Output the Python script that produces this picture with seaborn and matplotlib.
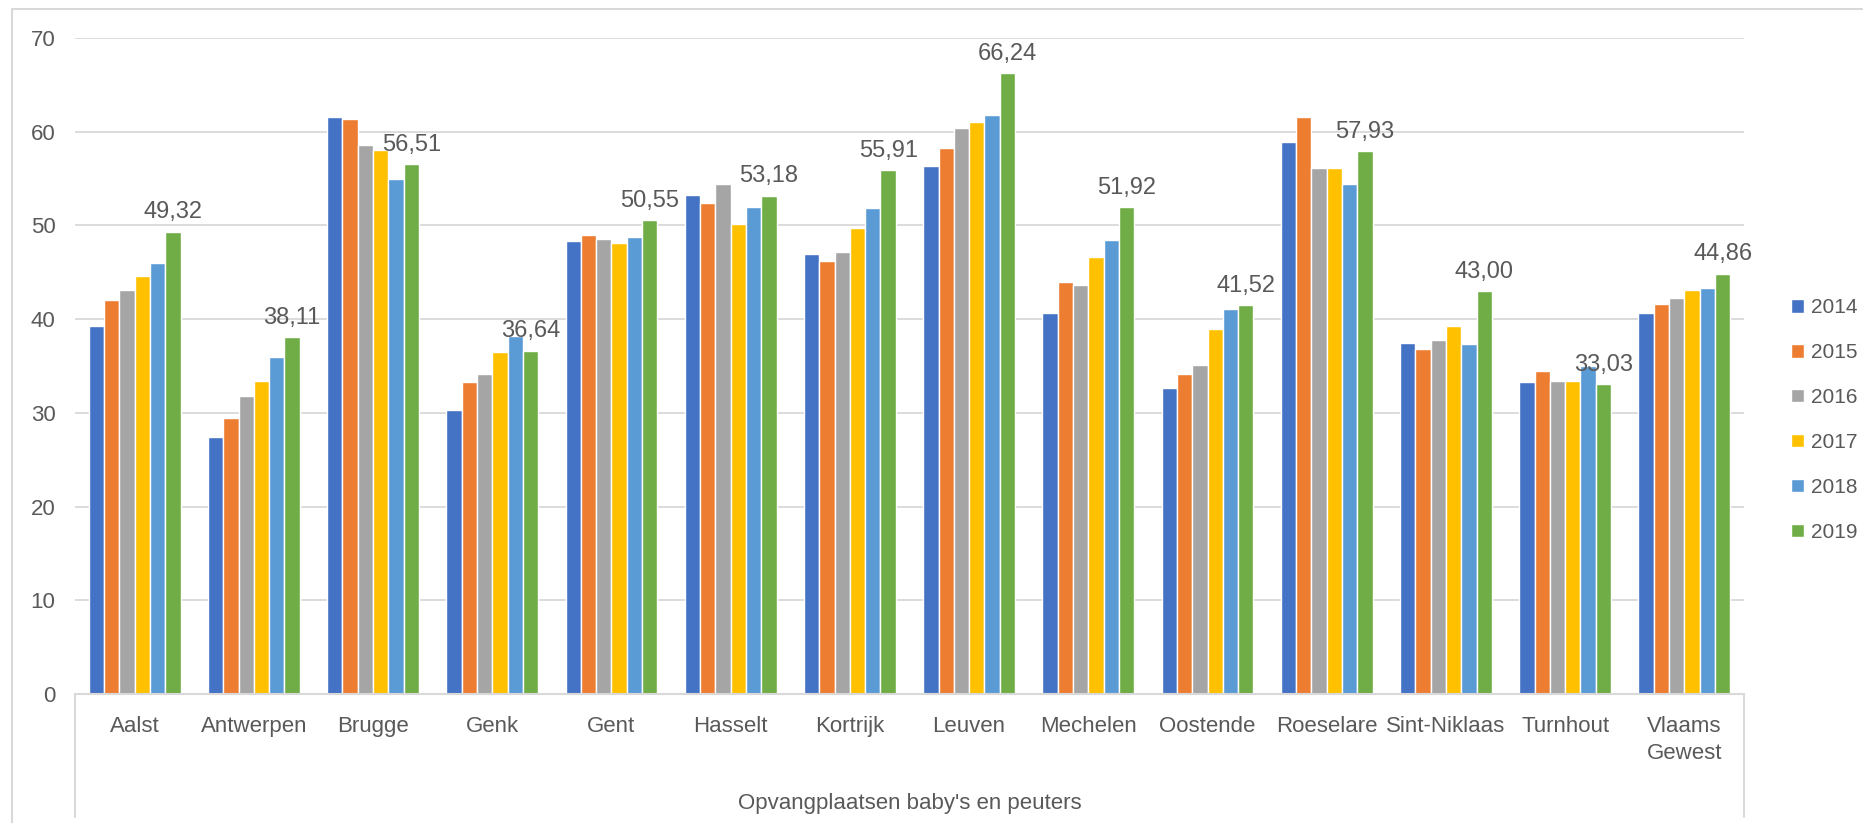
import pandas as pd
import matplotlib.pyplot as plt
import seaborn as sns
from matplotlib.lines import Line2D

# values
steden = ["Aalst", "Antwerpen", "Brugge", "Genk", "Gent", "Hasselt", "Kortrijk",
          "Leuven", "Mechelen", "Oostende", "Roeselare", "Sint-Niklaas", "Turnhout",
          "Vlaams\nGewest"]
jaren = ["2014", "2015", "2016", "2017", "2018", "2019"]

v2014 = [39.3, 27.4, 61.6, 30.3, 48.3, 53.2, 46.9, 56.3, 40.7, 32.7, 58.9, 37.5, 33.3, 40.7]
v2015 = [42.0, 29.5, 61.4, 33.3, 49.0, 52.4, 46.2, 58.3, 44.0, 34.1, 61.6, 36.8, 34.5, 41.6]
v2016 = [43.1, 31.8, 58.6, 34.1, 48.5, 54.4, 47.2, 60.4, 43.6, 35.1, 56.1, 37.8, 33.4, 42.3]
v2017 = [44.6, 33.4, 58.0, 36.5, 48.1, 50.1, 49.7, 61.0, 46.6, 38.9, 56.1, 39.3, 33.4, 43.1]
v2018 = [46.0, 36.0, 55.0, 38.2, 48.8, 52.0, 51.9, 61.8, 48.4, 41.1, 54.4, 37.4, 35.0, 43.3]
v2019 = [49.32, 38.11, 56.51, 36.64, 50.55, 53.18, 55.91, 66.24, 51.92, 41.52, 57.93, 43.00, 33.03, 44.86]

kleuren = ["#4472C4", "#ED7D31", "#A5A5A5", "#FFC000", "#5B9BD5", "#70AD47"]
as_titel = "Opvangplaatsen baby's en peuters"

reeksen = [v2014, v2015, v2016, v2017, v2018, v2019]
rows = []
for jaar, waarden in zip(jaren, reeksen):
    for stad, w in zip(steden, waarden):
        rows.append({"stad": stad, "jaar": jaar, "waarde": w})
df = pd.DataFrame(rows)

sns.set_style("white")
plt.rcParams['font.family'] = ['Liberation Sans', 'DejaVu Sans']
tekst = "#595959"
grijs = "#D9D9D9"

W, H = 1863, 823
fig = plt.figure(figsize=(W / 100, H / 100), dpi=100)
ax = fig.add_axes([75 / W, 1 - 694 / H, (1744 - 75) / W, (694 - 38) / H])

sns.barplot(data=df, x="stad", y="waarde", hue="jaar", order=steden, hue_order=jaren,
            palette=kleuren, width=0.77, edgecolor="white", linewidth=1.0,
            saturation=1, ax=ax, legend=True)

ax.set_ylim(0, 70)
ax.set_yticks(range(0, 71, 10))
ax.yaxis.grid(True, color=grijs, linewidth=1.3)
ax.set_axisbelow(True)
for s in ["left", "right", "top"]:
    ax.spines[s].set_visible(False)
ax.spines["bottom"].set_color(grijs)
ax.spines["bottom"].set_linewidth(1.5)
ax.tick_params(axis="y", length=0, pad=14, labelsize=16, labelcolor=tekst)
ax.tick_params(axis="x", length=0, pad=16, labelsize=16, labelcolor=tekst)
for lbl in ax.get_xticklabels():
    lbl.set_linespacing(1.35)
ax.set_xlabel("")
ax.set_ylabel("")

# labels only on the 2019 series
ax.bar_label(ax.containers[5], labels=[f"{v:.2f}".replace(".", ",") for v in v2019],
             padding=6, fontsize=17, color=tekst)

ax.legend(loc="center left", bbox_to_anchor=(1781 / W, 1 - 420 / H),
          bbox_transform=fig.transFigure, frameon=False, fontsize=15,
          labelcolor=tekst, handlelength=0.6, handleheight=0.6, handletextpad=0.35,
          labelspacing=1.24, borderpad=0)

fig.text((75 + 1744) / 2 / W, 1 - 803 / H, as_titel, ha="center", va="center",
         fontsize=16, color=tekst)

# category box below the axis and outer chart border
for x in [75, 1744]:
    fig.add_artist(Line2D([x / W, x / W], [1 - 694 / H, 1 - 817 / H], color=grijs, linewidth=1.5))
fig.add_artist(Line2D([12 / W, 12 / W], [1 - 9 / H, 0], color=grijs, linewidth=1.5))
fig.add_artist(Line2D([12 / W, 1], [1 - 9 / H, 1 - 9 / H], color=grijs, linewidth=1.5))

fig.savefig("out.png", dpi=100, facecolor="white")
